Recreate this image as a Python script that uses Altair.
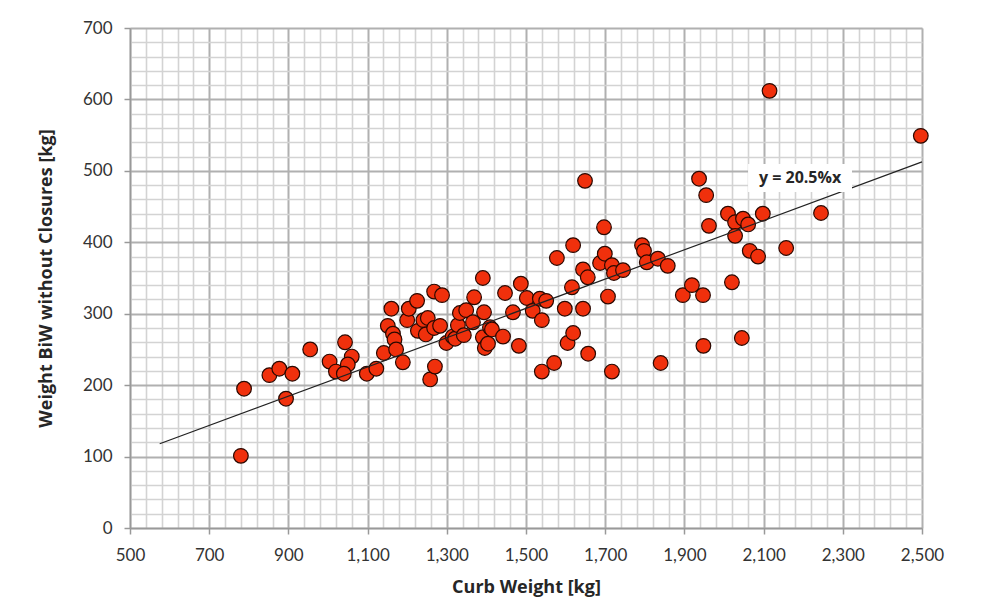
import altair as alt
import pandas as pd

# Curb weight [kg] and BiW weight without closures [kg]
curb = [780, 788, 894, 852, 877, 910, 955, 1004, 1020, 1043, 1060, 1050, 1040, 1098,
        1122, 1141, 1151, 1160, 1164, 1168, 1172, 1189, 1200, 1204, 1225, 1227, 1241,
        1252, 1247, 1258, 1270, 1268, 1283, 1268, 1288, 1299, 1315, 1321, 1328, 1333,
        1349, 1343, 1366, 1369, 1391, 1391, 1394, 1396, 1404, 1409, 1414,
        1442, 1447, 1467, 1482, 1487, 1502, 1517, 1535, 1540, 1551, 1540, 1571, 1578,
        1598, 1605,
        1616, 1619, 1619, 1644, 1644, 1649, 1656, 1657, 1687, 1697, 1699, 1707, 1717,
        1717, 1722, 1745, 1793, 1798,
        1805, 1833, 1840, 1858, 1896, 1919, 1937, 1947, 1948, 1955, 1962,
        2010, 2020, 2028, 2028, 2045, 2048, 2061, 2065, 2086, 2098, 2115, 2157, 2245, 2497]
biw = [101, 195, 181, 214, 223, 216, 250, 233, 219, 260, 240, 229, 216, 216,
       223, 245, 283, 307, 272, 264, 250, 232, 291, 307, 318, 276, 291,
       294, 271, 208, 226, 280, 283, 331, 326, 259, 268, 265, 284, 301,
       305, 270, 288, 323, 350, 267, 302, 252, 258, 281, 278,
       268, 329, 302, 255, 342, 322, 304, 321, 291, 318, 219, 231, 378,
       307, 259,
       337, 396, 273, 362, 307, 486, 351, 244, 371, 421, 384, 324, 368,
       219, 357, 361, 396, 388,
       372, 377, 231, 367, 326, 340, 489, 326, 255, 466, 423,
       440, 344, 428, 409, 266, 433, 425, 388, 380, 440, 612, 392, 441, 549]

trend_x = [575, 2500]
trend_slope = 0.205
label_x = [2192]
label_y = [490]
label_text = ["y = 20.5%x"]

pts = pd.DataFrame({"curb": curb, "biw": biw})
trend = pd.DataFrame({"curb": trend_x, "biw": [trend_slope * v for v in trend_x]})
lab = pd.DataFrame({"curb": label_x, "biw": label_y, "t": label_text})

xscale = alt.Scale(domain=[500, 2500], nice=False, zero=False)
yscale = alt.Scale(domain=[0, 700], nice=False, zero=True)

xmajor = "datum.value % 200 == 100"
ymajor = "datum.value % 100 == 0"

x_axis = alt.Axis(
    values=list(range(500, 2501, 40)), tickCount=200,
    labelExpr="datum.value % 200 == 100 ? format(datum.value, ',') : ''",
    gridColor={"condition": {"test": xmajor, "value": "#b0b0b0"}, "value": "#d3d3d3"},
    gridWidth={"condition": {"test": xmajor, "value": 2}, "value": 1.6},
    tickColor={"condition": {"test": xmajor, "value": "#999999"}, "value": "transparent"},
    tickSize=6, tickWidth=1.5,
    domainColor="#999999", domainWidth=1.5,
    labelFont="Lato", labelFontSize=17, labelColor="#333333", labelPadding=13,
    labelFlush=False, labelOverlap=False,
    title="Curb Weight [kg]", titleFont="Open Sans", titleFontSize=18,
    titleFontWeight="bold", titleColor="#262626", titlePadding=15,
)
y_axis = alt.Axis(
    values=list(range(0, 701, 20)), tickCount=200,
    labelExpr="datum.value % 100 == 0 ? format(datum.value, 'd') : ''",
    gridColor={"condition": {"test": ymajor, "value": "#b0b0b0"}, "value": "#d3d3d3"},
    gridWidth={"condition": {"test": ymajor, "value": 2}, "value": 1.6},
    tickColor={"condition": {"test": ymajor, "value": "#999999"}, "value": "transparent"},
    tickSize=6, tickWidth=1.5,
    domainColor="#999999", domainWidth=1.5,
    labelFont="Lato", labelFontSize=17, labelColor="#333333", labelPadding=12,
    labelFlush=False, labelOverlap=False,
    title="Weight BiW without Closures [kg]", titleFont="Open Sans", titleFontSize=18,
    titleFontWeight="bold", titleColor="#262626", titlePadding=27,
)

points = alt.Chart(pts).mark_circle(
    size=215, color="#f0300c", opacity=1, stroke="#2a0800", strokeWidth=1.2
).encode(
    x=alt.X("curb:Q", scale=xscale, axis=x_axis),
    y=alt.Y("biw:Q", scale=yscale, axis=y_axis),
)

line = alt.Chart(trend).mark_line(color="#222222", strokeWidth=1.2).encode(
    x=alt.X("curb:Q", scale=xscale),
    y=alt.Y("biw:Q", scale=yscale),
)

box = alt.Chart(lab).mark_point(
    shape="M-1,-0.27H1V0.27H-1Z", filled=True, fill="white", opacity=1, size=10800,
    strokeWidth=0,
).encode(
    x=alt.X("curb:Q", scale=xscale),
    y=alt.Y("biw:Q", scale=yscale),
)

text = alt.Chart(lab).mark_text(
    font="Open Sans", fontSize=16, fontWeight="bold", color="#262626",
    align="center", baseline="middle",
).encode(
    x=alt.X("curb:Q", scale=xscale),
    y=alt.Y("biw:Q", scale=yscale),
    text="t:N",
)

chart = alt.layer(points, line, box, text).properties(
    width=792, height=500,
    autosize=alt.AutoSizeParams(type="none"),
    padding={"left": 122, "top": 20, "right": 74, "bottom": 75},
).configure_view(stroke=None).configure(background="white")

chart.save("out.html", embed_options={"renderer": "svg", "actions": False})
